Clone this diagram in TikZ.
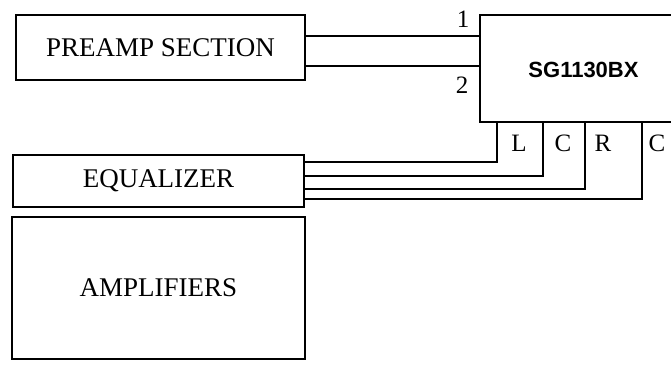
\documentclass[tikz,border=0pt]{standalone}
\usepackage{fontspec}
\setmainfont{Liberation Serif}
\newfontfamily\sgfont{Liberation Sans}
\begin{document}
\begin{tikzpicture}[x=1pt,y=-1pt,
  wire/.style={line width=1.9pt},
  blk/.style={draw, line width=1.9pt, rectangle, inner sep=0pt, font=\fontsize{27}{29}\selectfont},
  pin/.style={inner sep=0pt, font=\fontsize{25}{27}\selectfont},
  chan/.style={inner sep=0pt, font=\fontsize{25}{27}\selectfont}]
\useasboundingbox (0,0) rectangle (671,371);
\node[blk, minimum width=289pt, minimum height=65pt] (pre) at (160.5,47.5) {PREAMP SECTION};
\node[blk, minimum width=291pt, minimum height=52pt] (eq) at (158.5,181) {EQUALIZER};
\node[blk, minimum width=293pt, minimum height=142pt] (amp) at (158.5,288) {AMPLIFIERS};
\node[rectangle, inner sep=0pt, minimum width=191pt, minimum height=107pt] (sg) at (575.5,68.5) {};
\draw[wire] (sg.north east) -- (sg.north west) -- (sg.south west) -- (sg.south east);
\node[inner sep=0pt, font=\sgfont\bfseries\fontsize{22}{24}\selectfont] (sgt) at (583.5,70) {SG1130BX};
% inputs
\coordinate (a1) at (0,36);
\coordinate (a2) at (0,66);
\draw[wire] (pre.east |- a1) -- (sg.west |- a1);
\draw[wire] (pre.east |- a2) -- (sg.west |- a2);
\node[pin] (n1) at (463,19) {1};
\node[pin] (n2) at (462,85) {2};
% outputs
\coordinate (bL) at (497,162);
\coordinate (bC) at (543,176);
\coordinate (bR) at (585,189);
\coordinate (bC2) at (642,199);
\draw[wire] (sg.south -| bL) -- (bL) -- (eq.east |- bL);
\draw[wire] (sg.south -| bC) -- (bC) -- (eq.east |- bC);
\draw[wire] (sg.south -| bR) -- (bR) -- (eq.east |- bR);
\draw[wire] (sg.south -| bC2) -- (bC2) -- (eq.east |- bC2);
\node[chan] (lL) at (519,143) {L};
\node[chan] (lC) at (563,143) {C};
\node[chan] (lR) at (603,143) {R};
\node[chan] (lC2) at (657,143) {C};
\end{tikzpicture}
\end{document}
